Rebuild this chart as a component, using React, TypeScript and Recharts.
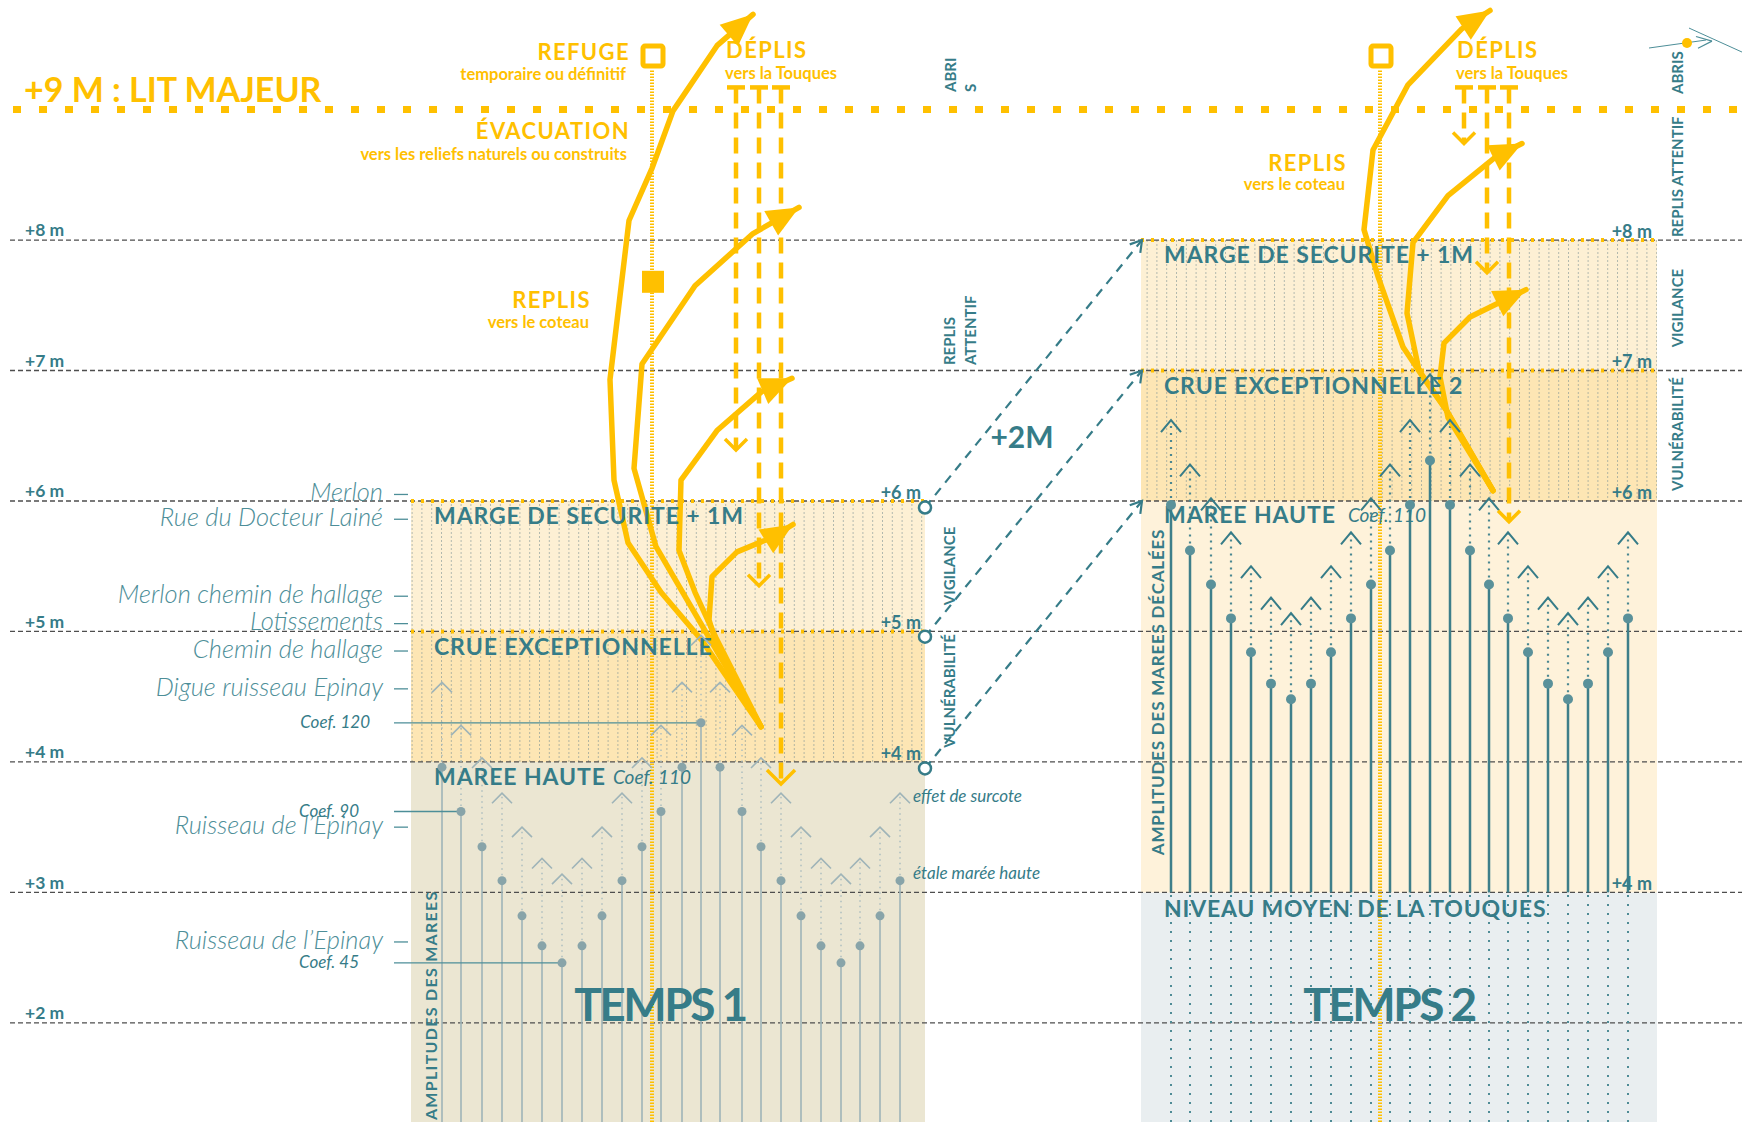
import React from 'react';
import {
  ComposedChart,
  XAxis,
  YAxis,
  Line,
  Scatter,
  ReferenceLine,
  ReferenceArea,
  ReferenceDot,
} from 'recharts';

const W = 1742;
const H = 1122;
const M_MIN = 1.24;
const M_MAX = 9.84;
const PX_PER_M = H / (M_MAX - M_MIN);

const TEAL = '#367c88';
const TEAL_SOFT = '#4d8e98';
const GOLD = '#ffc000';
const FONT = 'Lato, "Open Sans", sans-serif';

// niveaux (m)
const LEVELS = [2, 3, 4, 5, 6, 7, 8];
const T1_TAG_LEVELS = [6, 5, 4];
const T2_TAG_LEVELS = [8, 7, 6, 3];
const T2_TAGS = ['+8 m', '+7 m', '+6 m', '+4 m'];

// temps 1 : marées (position, pleine mer, surcote)
const T1_X = [442, 461, 482, 502, 522, 542, 562, 582, 602, 622, 642, 661, 682, 701, 720, 742, 761, 781, 801, 821, 841, 860, 880, 900];
const T1_HIGH = [3.96, 3.62, 3.35, 3.09, 2.82, 2.59, 2.46, 2.59, 2.82, 3.09, 3.35, 3.62, 3.96, 4.30, 3.96, 3.62, 3.35, 3.09, 2.82, 2.59, 2.46, 2.59, 2.82, 3.09];
const T1_SURGE = [4.61, 4.28, 4.03, 3.76, 3.50, 3.26, 3.14, 3.26, 3.50, 3.76, 4.03, 4.28, 4.61, 4.97, 4.61, 4.28, 4.03, 3.76, 3.50, 3.26, 3.14, 3.26, 3.50, 3.76];

// temps 2 : marées décalées (+2 m)
const T2_X = [1171, 1190, 1211, 1231, 1251, 1271, 1291, 1311, 1331, 1351, 1371, 1390, 1410, 1430, 1450, 1470, 1489, 1508, 1528, 1548, 1568, 1588, 1608, 1628];
const T2_HIGH = [5.97, 5.62, 5.36, 5.10, 4.84, 4.60, 4.48, 4.60, 4.84, 5.10, 5.36, 5.62, 5.97, 6.31, 5.97, 5.62, 5.36, 5.10, 4.84, 4.60, 4.48, 4.60, 4.84, 5.10];
const T2_SURGE = [6.62, 6.28, 6.02, 5.76, 5.50, 5.26, 5.14, 5.26, 5.50, 5.76, 6.02, 6.28, 6.62, 6.97, 6.62, 6.28, 6.02, 5.76, 5.50, 5.26, 5.14, 5.26, 5.50, 5.76];

// repères à gauche
const PLACES = ['Merlon', 'Rue du Docteur Lainé', 'Merlon chemin de hallage', 'Lotissements', 'Chemin de hallage', 'Digue ruisseau Epinay', 'Ruisseau de l’Epinay', 'Ruisseau de l’Epinay'];
const PLACE_LEVELS = [6.05, 5.86, 5.27, 5.06, 4.85, 4.56, 3.50, 2.62];
const COEFS = ['Coef. 120', 'Coef. 90', 'Coef. 45'];
const COEF_LEVELS = [4.30, 3.62, 2.46];
const COEF_STEM = [701, 461, 562];

// flèches jaunes (x, m)
const EVAC_T1 = [[761, 4.27], [702, 4.93], [661, 5.30], [628, 5.68], [614, 6.16], [610, 6.93], [629, 8.15], [652, 8.55], [673, 8.99], [717, 9.49], [753, 9.73]];
const REPLI_T1 = [[761, 4.27], [691, 5.19], [656, 5.65], [634, 6.25], [642, 7.05], [695, 7.65], [753, 8.05], [799, 8.25]];
const REPLI2_T1 = [[761, 4.27], [716, 4.95], [695, 5.30], [679, 5.62], [681, 6.16], [717, 6.54], [762, 6.84], [792, 6.94]];
const REPLI3_T1 = [[761, 4.27], [716, 4.91], [709, 5.09], [712, 5.42], [737, 5.61], [772, 5.72], [793, 5.82]];
const EVAC_T2 = [[1493, 6.08], [1446, 6.70], [1423, 6.95], [1403, 7.18], [1378, 7.72], [1364, 8.08], [1373, 8.69], [1408, 9.19], [1462, 9.62], [1490, 9.76]];
const REPLI_T2 = [[1493, 6.08], [1446, 6.70], [1419, 7.00], [1407, 7.44], [1413, 7.98], [1448, 8.34], [1496, 8.64], [1522, 8.74]];
const REPLI2_T2 = [[1493, 6.08], [1448, 6.64], [1440, 6.95], [1444, 7.21], [1470, 7.41], [1499, 7.52], [1526, 7.62]];

// déplis vers la Touques
const DROP_TOP = 9.17;
const DROP_X = [736, 759, 781, 1464, 1487, 1509];
const DROP_END = [6.39, 5.35, 3.83, 8.74, 7.75, 5.84];

// décalage +2 m
const LINK_FROM = [5.95, 4.96, 3.95];
const LINK_TO = [8, 7, 6];

const REFUGES = [{ x: 653, m: 9.41 }, { x: 1381, m: 9.41 }];
const SHELTER = [{ x: 653, m: 7.68 }];

const pts = (pairs: number[][]) => pairs.map(([x, m]) => ({ x, m }));

const angleAt = (d: { x: number; m: number }[], i: number, j: number) =>
  Math.atan2(-(d[j].m - d[i].m) * PX_PER_M, d[j].x - d[i].x);

const solidHead = (d: { x: number; m: number }[]) => (p: any) => {
  const { cx, cy, index } = p;
  if (index !== d.length - 1) return <g key={`h${index}`} />;
  const a = angleAt(d, index - 1, index);
  const c = Math.cos(a);
  const s = Math.sin(a);
  const L = 32;
  const hw = 14;
  const bx = cx - L * c;
  const by = cy - L * s;
  return (
    <polygon
      key={`h${index}`}
      points={`${cx},${cy} ${bx - hw * s},${by + hw * c} ${bx + hw * s},${by - hw * c}`}
      fill={GOLD}
    />
  );
};

const dropEnds = (size: number) => (p: any) => {
  const { cx, cy, index } = p;
  if (index === 0) {
    return <line key="t" x1={cx - 9} y1={cy} x2={cx + 9} y2={cy} stroke={GOLD} strokeWidth={4.5} />;
  }
  return (
    <polyline
      key="v"
      points={`${cx - size},${cy - size} ${cx},${cy} ${cx + size},${cy - size}`}
      fill="none"
      stroke={GOLD}
      strokeWidth={3.5}
    />
  );
};

const linkEnds = (d: { x: number; m: number }[]) => (p: any) => {
  const { cx, cy, index } = p;
  if (index === 0) {
    return <circle key="o" cx={cx} cy={cy} r={6} fill="#fff" stroke={TEAL} strokeWidth={2.5} />;
  }
  const a = angleAt(d, 0, 1);
  const L = 13;
  const a1 = a + Math.PI - 0.55;
  const a2 = a + Math.PI + 0.55;
  return (
    <polyline
      key="a"
      points={`${cx + L * Math.cos(a1)},${cy + L * Math.sin(a1)} ${cx},${cy} ${cx + L * Math.cos(a2)},${cy + L * Math.sin(a2)}`}
      fill="none"
      stroke={TEAL}
      strokeWidth={2.2}
    />
  );
};

const caret = (color: string, hw: number, h: number, sw: number) => (p: any) => (
  <polyline
    points={`${p.cx - hw},${p.cy + h} ${p.cx},${p.cy} ${p.cx + hw},${p.cy + h}`}
    fill="none"
    stroke={color}
    strokeWidth={sw}
  />
);

type NoteOpts = {
  size: number;
  weight?: number;
  color?: string;
  italic?: boolean;
  anchor?: 'start' | 'middle' | 'end';
  spacing?: number;
  vertical?: boolean;
};

const note = (key: string, x: number, m: number, text: string, o: NoteOpts) => (
  <ReferenceDot
    key={key}
    x={x}
    y={m}
    r={0}
    fill="none"
    stroke="none"
    ifOverflow="visible"
    label={(p: any) => {
      const vb = p.viewBox || {};
      const tx = (vb.x ?? 0) + (vb.width ?? 0) / 2;
      const ty = (vb.y ?? 0) + (vb.height ?? 0) / 2;
      return (
        <text
          x={tx}
          y={ty}
          textAnchor={o.anchor ?? 'start'}
          dominantBaseline="central"
          transform={o.vertical ? `rotate(-90 ${tx} ${ty})` : undefined}
          fontFamily={FONT}
          fontSize={o.size}
          fontWeight={o.weight ?? 400}
          fontStyle={o.italic ? 'italic' : 'normal'}
          letterSpacing={o.spacing ?? 0}
          fill={o.color ?? TEAL}
        >
          {text}
        </text>
      );
    }}
  />
);

const B1 = [411, 925];
const B2 = [1141, 1657];

export default function App() {
  const t1Dots = T1_X.map((x, i) => ({ x, m: T1_HIGH[i] }));
  const t1Peaks = T1_X.map((x, i) => ({ x, m: T1_SURGE[i] }));
  const t2Dots = T2_X.map((x, i) => ({ x, m: T2_HIGH[i] }));
  const t2Peaks = T2_X.map((x, i) => ({ x, m: T2_SURGE[i] }));
  const arrows = [EVAC_T1, REPLI_T1, REPLI2_T1, REPLI3_T1, EVAC_T2, REPLI_T2, REPLI2_T2].map(pts);
  const drops = DROP_X.map((x, i) => [{ x, m: DROP_TOP }, { x, m: DROP_END[i] }]);
  const links = LINK_FROM.map((m, i) => [{ x: B1[1], m }, { x: B2[0] + 1, m: LINK_TO[i] }]);

  const gold = (k: string, x: number, m: number, t: string, size: number, anchor: 'start' | 'end', spacing = 0) =>
    note(k, x, m, t, { size, weight: 700, color: GOLD, anchor, spacing });
  const band = (k: string, x: number, m: number, t: string, spacing = 1) =>
    note(k, x, m, t, { size: 23, weight: 700, spacing });

  return (
    <div style={{ position: 'absolute', left: 0, top: 0, width: W, height: H, background: '#fff' }}>
      <ComposedChart width={W} height={H} margin={{ top: 0, right: 0, bottom: 0, left: 0 }}>
        <defs>
          <pattern id="hatch" width="9.8" height="4" patternUnits="userSpaceOnUse">
            <rect x="0" y="0" width="1" height="2" fill="#7f9294" fillOpacity="0.6" />
          </pattern>
        </defs>
        <XAxis type="number" dataKey="x" domain={[0, W]} hide allowDataOverflow />
        <YAxis type="number" dataKey="m" domain={[M_MIN, M_MAX]} hide allowDataOverflow />

        {/* temps 1 : bandes */}
        <ReferenceArea x1={B1[0]} x2={B1[1]} y1={M_MIN} y2={4} fill="#ebe6d2" fillOpacity={1} stroke="none" ifOverflow="visible" />
        <ReferenceArea x1={B1[0]} x2={B1[1]} y1={4} y2={5} fill="#fde6b4" fillOpacity={1} stroke="none" />
        <ReferenceArea x1={B1[0]} x2={B1[1]} y1={5} y2={6} fill="#fdf0d4" fillOpacity={1} stroke="none" />
        <ReferenceArea x1={B1[0]} x2={B1[1]} y1={4} y2={6} fill="url(#hatch)" fillOpacity={1} stroke="none" />

        {/* temps 2 : bandes */}
        <ReferenceArea x1={B2[0]} x2={B2[1]} y1={M_MIN} y2={3} fill="#e9eef0" fillOpacity={1} stroke="none" ifOverflow="visible" />
        <ReferenceArea x1={B2[0]} x2={B2[1]} y1={3} y2={6} fill="#fef2da" fillOpacity={1} stroke="none" />
        <ReferenceArea x1={B2[0]} x2={B2[1]} y1={6} y2={7} fill="#fde6b4" fillOpacity={1} stroke="none" />
        <ReferenceArea x1={B2[0]} x2={B2[1]} y1={7} y2={8} fill="#fdf0d4" fillOpacity={1} stroke="none" />
        <ReferenceArea x1={B2[0]} x2={B2[1]} y1={6} y2={8} fill="url(#hatch)" fillOpacity={1} stroke="none" />

        {/* niveaux */}
        {LEVELS.map((l) => (
          <ReferenceLine key={`lv${l}`} segment={[{ x: 10, y: l }, { x: W, y: l }]} stroke="#4e4e4e" strokeWidth={1.3} strokeDasharray="5 3" />
        ))}
        <ReferenceLine segment={[{ x: 13, y: 9 }, { x: W, y: 9 }]} stroke={GOLD} strokeWidth={7} strokeDasharray="8 18" />
        {[5, 6].map((l) => (
          <ReferenceLine key={`y1${l}`} segment={[{ x: B1[0], y: l }, { x: B1[1], y: l }]} stroke={GOLD} strokeWidth={4} strokeDasharray="3 7" />
        ))}
        {[7, 8].map((l) => (
          <ReferenceLine key={`y2${l}`} segment={[{ x: B2[0], y: l }, { x: B2[1], y: l }]} stroke={GOLD} strokeWidth={4} strokeDasharray="3 7" />
        ))}

        {/* refuges : axes pointillés */}
        {REFUGES.map((r) => (
          <ReferenceLine key={`rf${r.x}`} segment={[{ x: r.x - 1, y: 9.3 }, { x: r.x - 1, y: M_MIN }]} stroke={GOLD} strokeWidth={4} strokeDasharray="1.5 1.5" />
        ))}

        {/* temps 1 : marées */}
        {T1_X.map((x, i) => (
          <ReferenceLine key={`s1${i}`} segment={[{ x, y: M_MIN }, { x, y: T1_HIGH[i] }]} stroke="#9fb4b8" strokeWidth={1.6} />
        ))}
        {T1_X.map((x, i) => (
          <ReferenceLine key={`c1${i}`} segment={[{ x, y: T1_HIGH[i] }, { x, y: T1_SURGE[i] }]} stroke="#a9bbbe" strokeWidth={1.4} strokeDasharray="1.5 4" />
        ))}

        {/* temps 2 : marées décalées */}
        {T2_X.map((x, i) => (
          <ReferenceLine key={`b2${i}`} segment={[{ x, y: M_MIN }, { x, y: 3 }]} stroke="#4f8c96" strokeWidth={2} strokeDasharray="2 7" />
        ))}
        {T2_X.map((x, i) => (
          <ReferenceLine key={`s2${i}`} segment={[{ x, y: 3 }, { x, y: T2_HIGH[i] }]} stroke="#3e7f8a" strokeWidth={2.5} />
        ))}
        {T2_X.map((x, i) => (
          <ReferenceLine key={`c2${i}`} segment={[{ x, y: T2_HIGH[i] }, { x, y: T2_SURGE[i] }]} stroke="#4a8791" strokeWidth={2.2} strokeDasharray="2 5" />
        ))}

        {/* repères gauche */}
        {PLACE_LEVELS.map((l, i) => (
          <ReferenceLine key={`pt${i}`} segment={[{ x: 394, y: l }, { x: 408, y: l }]} stroke={TEAL_SOFT} strokeWidth={1.3} />
        ))}
        {COEF_LEVELS.map((l, i) => (
          <ReferenceLine key={`cf${i}`} segment={[{ x: 394, y: l }, { x: COEF_STEM[i], y: l }]} stroke={TEAL_SOFT} strokeWidth={1.3} />
        ))}

        {/* abris : pictogramme */}
        <ReferenceLine segment={[{ x: 1649, y: 9.472 }, { x: 1706, y: 9.533 }]} stroke={TEAL_SOFT} strokeWidth={1} />
        <ReferenceLine segment={[{ x: 1689, y: 9.625 }, { x: 1742, y: 9.441 }]} stroke={TEAL_SOFT} strokeWidth={1} />
        <ReferenceLine segment={[{ x: 1696, y: 9.56 }, { x: 1712, y: 9.525 }]} stroke={TEAL_SOFT} strokeWidth={1.2} />
        <ReferenceLine segment={[{ x: 1712, y: 9.525 }, { x: 1698, y: 9.47 }]} stroke={TEAL_SOFT} strokeWidth={1.2} />
        <ReferenceDot x={1687} y={9.51} r={5} fill={GOLD} stroke="none" />

        {/* textes */}
        {LEVELS.map((l) => note(`tg${l}`, 25, l + 0.078, `+${l} m`, { size: 17.5, weight: 700 }))}
        {T1_TAG_LEVELS.map((l) => note(`t1g${l}`, 921, l + 0.072, `+${l} m`, { size: 18, weight: 700, anchor: 'end' }))}
        {T2_TAG_LEVELS.map((l, i) => note(`t2g${l}`, 1652, l + 0.072, T2_TAGS[i], { size: 18, weight: 700, anchor: 'end' }))}
        {PLACES.map((t, i) => note(`pl${i}`, 383, PLACE_LEVELS[i] + 0.025, t, { size: 25.5, weight: 300, italic: true, anchor: 'end', color: TEAL_SOFT }))}
        {COEFS.map((t, i) => note(`co${i}`, i === 0 ? 370 : 359, COEF_LEVELS[i] + 0.01, t, { size: 17, italic: true, anchor: 'end', color: TEAL }))}

        {note('title', 24, 9.165, '+9 M : LIT MAJEUR', { size: 34, weight: 700, color: GOLD })}
        {gold('refuge', 630, 9.449, 'REFUGE', 22, 'end', 1.4)}
        {gold('refuge2', 626, 9.273, 'temporaire ou définitif', 16.5, 'end')}
        {gold('evac', 630, 8.836, 'ÉVACUATION', 22, 'end', 1.4)}
        {gold('evac2', 627, 8.66, 'vers les reliefs naturels ou construits', 16.5, 'end')}
        {gold('rep1', 591, 7.548, 'REPLIS', 22, 'end', 1.4)}
        {gold('rep1b', 589, 7.372, 'vers le coteau', 16.5, 'end')}
        {gold('dep1', 726, 9.464, 'DÉPLIS', 22, 'start', 1.4)}
        {gold('dep1b', 725, 9.28, 'vers la Touques', 16.5, 'start')}
        {gold('dep2', 1457, 9.464, 'DÉPLIS', 22, 'start', 1.4)}
        {gold('dep2b', 1456, 9.28, 'vers la Touques', 16.5, 'start')}
        {gold('rep2', 1347, 8.598, 'REPLIS', 22, 'end', 1.4)}
        {gold('rep2b', 1345, 8.43, 'vers le coteau', 16.5, 'end')}

        {band('m1', 434, 5.893, 'MARGE DE SECURITE + 1M', 0.9)}
        {band('c1', 434, 4.888, 'CRUE EXCEPTIONNELLE', 0.9)}
        {band('h1', 434, 3.892, 'MAREE HAUTE', 0.9)}
        {note('h1c', 613, 3.89, 'Coef. 110', { size: 19, italic: true })}
        {band('m2', 1164, 7.893, 'MARGE DE SECURITE + 1M', 0.9)}
        {band('c2', 1164, 6.889, 'CRUE EXCEPTIONNELLE 2', 0.9)}
        {band('h2', 1164, 5.9, 'MAREE HAUTE', 0.9)}
        {note('h2c', 1348, 5.898, 'Coef. 110', { size: 19, italic: true })}
        {band('nm', 1164, 2.88, 'NIVEAU MOYEN DE LA TOUQUES', 0.8)}
        {note('tp1', 660, 2.152, 'TEMPS 1', { size: 46, weight: 700, anchor: 'middle', spacing: -2.5 })}
        {note('tp2', 1389, 2.152, 'TEMPS 2', { size: 46, weight: 700, anchor: 'middle', spacing: -2.5 })}
        {note('plus2', 1022, 6.498, '+2M', { size: 30, weight: 700, anchor: 'middle' })}
        {note('eff', 913, 3.739, 'effet de surcote', { size: 17, italic: true })}
        {note('eta', 913, 3.156, 'étale marée haute', { size: 17, italic: true })}

        {note('ab1', 950, 9.135, 'ABRI', { size: 15, weight: 700, vertical: true })}
        {note('ab1s', 970, 9.135, 'S', { size: 15, weight: 700, vertical: true })}
        {note('ra1', 949, 7.042, 'REPLIS', { size: 15, weight: 700, vertical: true })}
        {note('ra1b', 970, 7.042, 'ATTENTIF', { size: 15, weight: 700, vertical: true })}
        {note('vg1', 949, 5.502, 'VIGILANCE', { size: 15, weight: 700, vertical: true, anchor: 'middle' })}
        {note('vu1', 949, 4.544, 'VULNÉRABILITÉ', { size: 15, weight: 700, vertical: true, anchor: 'middle' })}
        {note('ab2', 1677, 9.12, 'ABRIS', { size: 15, weight: 700, vertical: true })}
        {note('ra2', 1677, 8.023, 'REPLIS ATTENTIF', { size: 15, weight: 700, vertical: true })}
        {note('vg2', 1677, 7.479, 'VIGILANCE', { size: 15, weight: 700, vertical: true, anchor: 'middle' })}
        {note('vu2', 1677, 6.513, 'VULNÉRABILITÉ', { size: 15, weight: 700, vertical: true, anchor: 'middle' })}
        {note('am1', 431, 1.255, 'AMPLITUDES DES MAREES', { size: 16, weight: 700, vertical: true, spacing: 1.3 })}
        {note('am2', 1158, 4.536, 'AMPLITUDES DES MAREES DÉCALÉES', { size: 17, weight: 700, vertical: true, anchor: 'middle', spacing: 0.8 })}

        {/* points des marées et surcotes */}
        <Scatter data={t1Peaks} shape={caret('#9fb4b8', 10, 10, 1.6)} isAnimationActive={false} />
        <Scatter data={t2Peaks} shape={caret(TEAL, 10, 12, 2)} isAnimationActive={false} />
        <Scatter data={t1Dots} shape={(p: any) => <circle cx={p.cx} cy={p.cy} r={4.5} fill="#88a4a9" />} isAnimationActive={false} />
        <Scatter data={t2Dots} shape={(p: any) => <circle cx={p.cx} cy={p.cy} r={5} fill="#5a919a" />} isAnimationActive={false} />
        <Scatter data={REFUGES} shape={(p: any) => <rect x={p.cx - 10} y={p.cy - 10} width={20} height={20} rx={2} fill="#fff" stroke={GOLD} strokeWidth={5} />} isAnimationActive={false} />
        <Scatter data={SHELTER} shape={(p: any) => <rect x={p.cx - 11} y={p.cy - 11} width={22} height={22} fill={GOLD} />} isAnimationActive={false} />

        {/* décalage +2 m */}
        {links.map((d, i) => (
          <Line key={`lk${i}`} data={d} dataKey="m" type="linear" stroke={TEAL} strokeWidth={2.2} strokeDasharray="9 7" dot={linkEnds(d)} activeDot={false} isAnimationActive={false} />
        ))}

        {/* déplis */}
        {drops.map((d, i) => (
          <Line key={`dp${i}`} data={d} dataKey="m" type="linear" stroke={GOLD} strokeWidth={4.5} strokeDasharray="16 9" dot={dropEnds(i === 2 ? 14 : 11)} activeDot={false} isAnimationActive={false} />
        ))}

        {/* évacuation / replis */}
        {arrows.map((d, i) => (
          <Line key={`ar${i}`} data={d} dataKey="m" type="linear" stroke={GOLD} strokeWidth={5.5} strokeLinejoin="round" strokeLinecap="round" dot={solidHead(d)} activeDot={false} isAnimationActive={false} />
        ))}
      </ComposedChart>
    </div>
  );
}
